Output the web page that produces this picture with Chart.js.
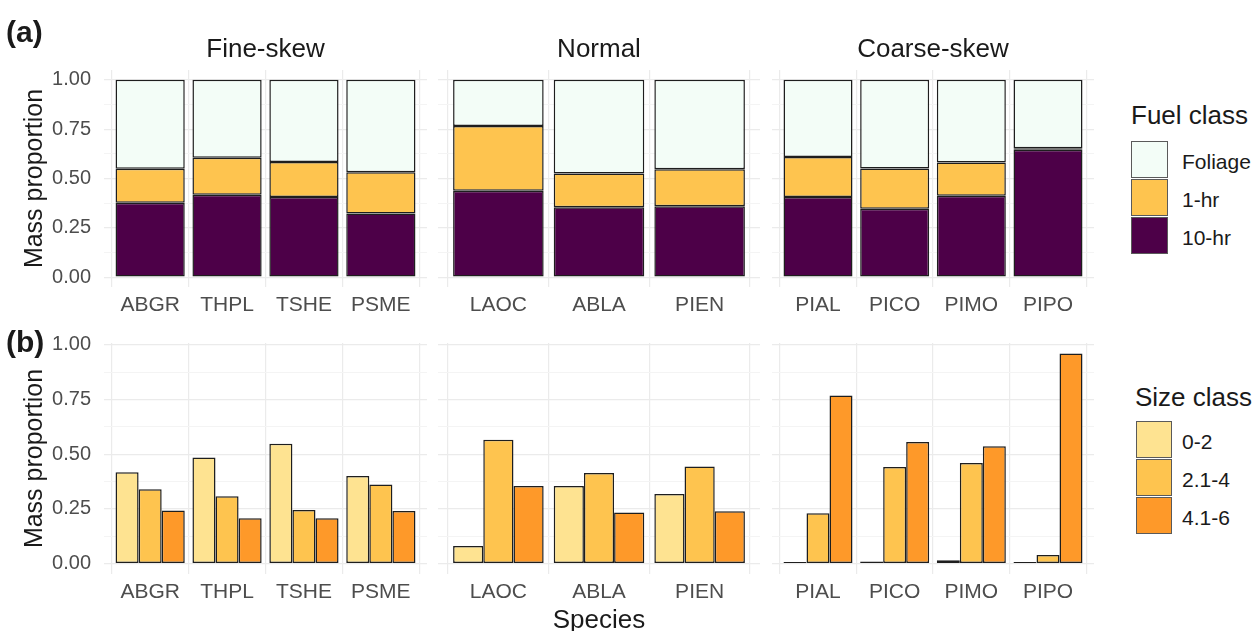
<!DOCTYPE html>
<html>
<head>
<meta charset="utf-8">
<script src="https://cdn.jsdelivr.net/npm/chart.js@4.4.1/dist/chart.umd.min.js"></script>
<style>
  body { margin: 0; background: #fff; font-family: "Liberation Sans", Arial, sans-serif; }
  #wrap { position: relative; width: 1255px; height: 631px; overflow: hidden; }
  canvas { position: absolute; }
  .txt { position: absolute; white-space: nowrap; color: #1a1a1a; line-height: 1; transform: translate(-50%, -50%); }
  .lbl { position: absolute; white-space: nowrap; color: #1a1a1a; line-height: 1; transform: translateY(-50%); }
  .key { position: absolute; box-sizing: border-box; border: 1px solid #5a5a5a; }
</style>
</head>
<body>
<div id="wrap"></div>
<script>
// species and the skew group each belongs to
const species = ['ABGR', 'THPL', 'TSHE', 'PSME', 'LAOC', 'ABLA', 'PIEN', 'PIAL', 'PICO', 'PIMO', 'PIPO'];
const skew = ['Fine-skew', 'Fine-skew', 'Fine-skew', 'Fine-skew', 'Normal', 'Normal', 'Normal',
  'Coarse-skew', 'Coarse-skew', 'Coarse-skew', 'Coarse-skew'];
const facets = ['Fine-skew', 'Normal', 'Coarse-skew'];

// (a) fuel class mass proportions
const fuelClasses = ['Foliage', '1-hr', '10-hr'];
const tenHr   = [0.377, 0.418, 0.406, 0.322, 0.438, 0.354, 0.359, 0.406, 0.347, 0.412, 0.646];
const oneHr   = [0.172, 0.187, 0.178, 0.210, 0.328, 0.171, 0.188, 0.203, 0.204, 0.169, 0.007];
const foliage = [0.451, 0.395, 0.416, 0.468, 0.234, 0.475, 0.453, 0.391, 0.449, 0.419, 0.347];

// (b) size class mass proportions
const sizeClasses = ['0-2', '2.1-4', '4.1-6'];
const size0to2 = [0.417, 0.485, 0.548, 0.400, 0.080, 0.354, 0.318, 0.001, 0.009, 0.015, 0.001];
const size2to4 = [0.339, 0.307, 0.245, 0.361, 0.566, 0.414, 0.443, 0.230, 0.441, 0.459, 0.039];
const size4to6 = [0.242, 0.207, 0.207, 0.240, 0.354, 0.233, 0.239, 0.768, 0.555, 0.536, 0.960];

const yTicks = [0, 0.25, 0.5, 0.75, 1];
const yMinor = [0.125, 0.375, 0.625, 0.875];

// colours
const fuelCol = { 'Foliage': '#F3FDF7', '1-hr': '#FEC44F', '10-hr': '#4D0048' };
const sizeCol = { '0-2': '#FEE391', '2.1-4': '#FEC44F', '4.1-6': '#FE9929' };

Chart.defaults.font.family = '"Liberation Sans", Arial, sans-serif';

const wrap = document.getElementById('wrap');
const panelX = [104, 438, 772];
const panelW = [323, 322, 322];
const rows = {
  a: { top: 70, h: 217, min: -0.05, max: 1.05, axisH: 36 },
  b: { top: 343, h: 231, min: -0.048, max: 1.008, axisH: 62 }
};
const padTop = 28;

function addText(cls, text, x, y, size, bold) {
  const d = document.createElement('div');
  d.className = cls;
  d.textContent = text;
  d.style.left = x + 'px';
  d.style.top = y + 'px';
  d.style.fontSize = size + 'px';
  if (bold) d.style.fontWeight = 'bold';
  wrap.appendChild(d);
}

function makePanel(rowKey, f) {
  const row = rows[rowKey];
  const idx = species.map((s, i) => i).filter(i => skew[i] === facets[f]);
  const labels = idx.map(i => species[i]);
  const pt = (arr) => idx.map((i, k) => ({ x: k, y: arr[i] }));

  let datasets;
  if (rowKey === 'a') {
    datasets = [
      { label: '10-hr', data: pt(tenHr), backgroundColor: fuelCol['10-hr'] },
      { label: '1-hr', data: pt(oneHr), backgroundColor: fuelCol['1-hr'] },
      { label: 'Foliage', data: pt(foliage), backgroundColor: fuelCol['Foliage'] }
    ];
  } else {
    datasets = [
      { label: '0-2', data: pt(size0to2), backgroundColor: sizeCol['0-2'] },
      { label: '2.1-4', data: pt(size2to4), backgroundColor: sizeCol['2.1-4'] },
      { label: '4.1-6', data: pt(size4to6), backgroundColor: sizeCol['4.1-6'] }
    ];
  }
  datasets.forEach(d => {
    d.borderColor = '#1e1e1e';
    d.borderWidth = 1.5;
    d.borderSkipped = false;
    d.categoryPercentage = 0.9;
    d.barPercentage = 1;
    if (rowKey === 'b') d.minBarLength = 1.5;
  });

  const yW = f === 0 ? 104 : 0;
  const cv = document.createElement('canvas');
  const w = panelW[f] + yW;
  const h = padTop + row.h + row.axisH;
  cv.width = w; cv.height = h;
  cv.style.width = w + 'px'; cv.style.height = h + 'px';
  cv.style.left = (panelX[f] - yW) + 'px';
  cv.style.top = (row.top - padTop) + 'px';
  wrap.appendChild(cv);

  new Chart(cv.getContext('2d'), {
    type: 'bar',
    data: { datasets },
    options: {
      responsive: false,
      animation: false,
      devicePixelRatio: 1,
      layout: { padding: { top: padTop, left: 0, right: 0, bottom: 0 } },
      plugins: { legend: { display: false }, tooltip: { enabled: false } },
      scales: {
        x: {
          type: 'linear',
          min: -0.6,
          max: labels.length - 0.4,
          offset: false,
          stacked: rowKey === 'a',
          afterBuildTicks: s => { s.ticks = labels.map((l, i) => ({ value: i })); },
          afterFit: s => { s.height = row.axisH; },
          grid: { color: '#ebebeb', lineWidth: 1.2, drawTicks: false },
          border: { display: false },
          ticks: {
            padding: 6, color: '#4d4d4d', font: { size: 21 },
            autoSkip: false, maxRotation: 0,
            callback: v => labels[v]
          },
          title: {
            display: rowKey === 'b' && f === 1,
            text: 'Species', color: '#1a1a1a', font: { size: 26 },
            padding: { top: 0, bottom: 0 }
          }
        },
        y: {
          min: row.min,
          max: row.max,
          stacked: rowKey === 'a',
          afterBuildTicks: s => {
            s.ticks = yTicks.concat(yMinor).sort((p, q) => p - q).map(v => ({ value: v }));
          },
          afterFit: s => { s.width = yW; },
          grid: {
            drawTicks: false,
            color: c => yMinor.includes(c.tick.value) ? '#f4f4f4' : '#ebebeb',
            lineWidth: c => yMinor.includes(c.tick.value) ? 1 : 1.2
          },
          border: { display: false },
          ticks: {
            display: f === 0,
            padding: 13, color: '#4d4d4d', font: { size: 20 },
            callback: v => yTicks.includes(v) ? v.toFixed(2) : ''
          },
          title: {
            display: f === 0,
            text: 'Mass proportion', color: '#1a1a1a', font: { size: 25 },
            padding: { top: 20, bottom: 0 }
          }
        }
      }
    }
  });
}

['a', 'b'].forEach(r => facets.forEach((fc, f) => makePanel(r, f)));

// facet strips
facets.forEach((fc, f) => addText('txt', fc, panelX[f] + panelW[f] / 2, 48, 26));

// panel tags
addText('lbl', '(a)', 6, 32, 30, true);
addText('lbl', '(b)', 6, 342, 30, true);

// legends
function addLegend(title, names, cols, titleX, titleY, keyX, keyW, keyTops, keyH) {
  addText('lbl', title, titleX, titleY, 26);
  names.forEach((n, i) => {
    const k = document.createElement('div');
    k.className = 'key';
    k.style.left = keyX + 'px';
    k.style.top = keyTops[i] + 'px';
    k.style.width = keyW + 'px';
    k.style.height = keyH + 'px';
    k.style.background = cols[n];
    wrap.appendChild(k);
    addText('lbl', n, 1182, keyTops[i] + keyH / 2 + 1, 21);
  });
}
addLegend('Fuel class', fuelClasses, fuelCol, 1131, 115, 1131, 37, [141, 179, 217], 37);
addLegend('Size class', sizeClasses, sizeCol, 1135, 397, 1136, 36, [421, 459, 497], 37);
</script>
</body>
</html>
